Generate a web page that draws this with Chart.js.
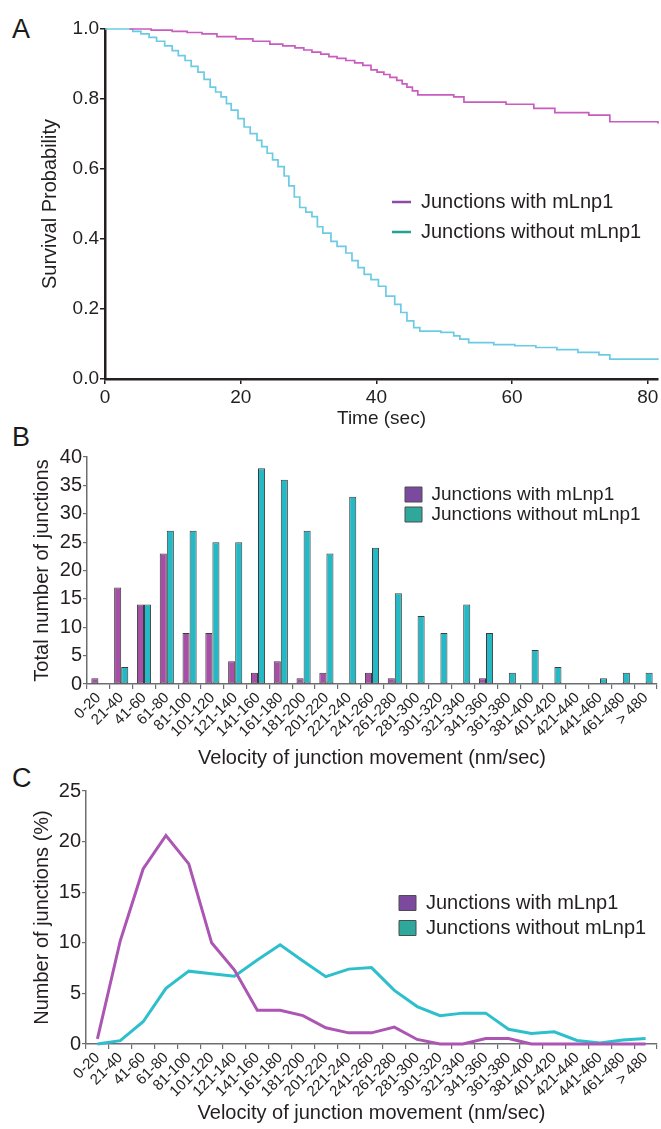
<!DOCTYPE html>
<html><head><meta charset="utf-8">
<script src="https://cdn.jsdelivr.net/npm/chart.js@4/dist/chart.umd.min.js"></script>
<style>
html,body{margin:0;padding:0;background:#fff;}
body{width:661px;height:1129px;position:relative;overflow:hidden;font-family:"Liberation Sans",Arial,sans-serif;color:#231f20;}
canvas{position:absolute;left:0;}
.letter{position:absolute;left:12px;font-size:27px;line-height:1;color:#1a1a1a;}
</style></head><body>
<div class="letter" style="top:16px">A</div>
<div class="letter" style="top:424px">B</div>
<div class="letter" style="top:765px">C</div>
<canvas id="cA" width="661" height="430" style="top:0;width:661px;height:430px"></canvas>
<canvas id="cB" width="661" height="342" style="top:428px;width:661px;height:342px"></canvas>
<canvas id="cC" width="661" height="359" style="top:770px;width:661px;height:359px"></canvas>
<script>
// ---------- data ----------
const seriesNames = ['Junctions with mLnp1', 'Junctions without mLnp1'];

// Panel A: Kaplan-Meier survival (time in sec, survival probability)
const aTimeWith = [3.6,6.8,9.9,12.1,14.3,16.5,19.3,21.8,24.3,26.2,28.0,29.3,30.5,31.8,33.0,34.2,35.5,36.8,38.0,39.2,40.1,41.1,42.0,43.0,43.8,44.5,45.3,46.1,51.4,52.9,59.1,63.2,66.3,71.3,74.4,81.5];
const aSurvWith = [1.0,0.997,0.993,0.990,0.986,0.978,0.972,0.965,0.957,0.952,0.946,0.940,0.934,0.928,0.921,0.916,0.910,0.903,0.896,0.883,0.877,0.870,0.862,0.853,0.843,0.834,0.823,0.812,0.806,0.791,0.785,0.773,0.761,0.754,0.735,0.730];
const aTimeWithout = [0,4.1,5.3,6.5,7.6,8.8,9.9,10.8,11.8,12.7,13.7,14.6,15.5,16.3,17.1,17.9,18.6,19.6,20.5,21.4,22.4,23.1,23.9,24.7,25.5,26.4,27.1,27.9,28.7,29.6,30.5,31.3,32.1,33.3,34.2,35.5,36.4,37.3,38.2,39.2,40.3,41.4,42.7,43.6,44.5,45.5,46.4,49.5,51.4,52.3,53.6,57.3,60.4,63.5,66.6,69.7,72.8,74.4,81.5];
const aSurvWithout = [1.0,0.993,0.986,0.976,0.965,0.952,0.938,0.924,0.910,0.893,0.877,0.856,0.834,0.820,0.806,0.787,0.768,0.744,0.720,0.701,0.682,0.664,0.645,0.626,0.607,0.580,0.552,0.520,0.490,0.477,0.464,0.435,0.417,0.393,0.379,0.360,0.338,0.318,0.299,0.284,0.265,0.237,0.213,0.190,0.166,0.147,0.137,0.133,0.123,0.114,0.104,0.098,0.095,0.090,0.084,0.076,0.069,0.057,0.055];
const aXTicks = [0,20,40,60,80];
const aYTicks = [0,0.2,0.4,0.6,0.8,1.0];

// Panels B and C: velocity bins
const velocityBins = ['0-20','21-40','41-60','61-80','81-100','101-120','121-140','141-160','161-180','181-200','201-220','221-240','241-260','261-280','281-300','301-320','321-340','341-360','361-380','381-400','401-420','421-440','441-460','461-480','> 480'];
const countsWith    = [1,17,14,23,9,9,4,2,4,1,2,0,2,1,0,0,0,1,0,0,0,0,0,0,0];
const countsWithout = [0,3,14,27,27,25,25,38,36,27,23,33,24,16,12,9,14,9,2,6,3,0,1,2,2];
const bYTicks = [0,5,10,15,20,25,30,35,40];

const pctWith    = [0.5,10.2,17.3,20.6,17.8,10.0,7.3,3.33,3.33,2.8,1.6,1.1,1.1,1.67,0.45,0,0,0.55,0.55,0,0,0,0,0,0];
const pctWithout = [0,0.33,2.2,5.5,7.2,6.95,6.7,8.3,9.8,8.2,6.65,7.4,7.55,5.3,3.7,2.8,3.05,3.05,1.45,1.05,1.2,0.35,0.1,0.4,0.55];
const cYTicks = [0,5,10,15,20,25];

// ---------- styles ----------
const FONT = "'Liberation Sans', Arial, sans-serif";
const INK = '#231f20';
const AXIS_GRAY = '#6d6e71';
Chart.defaults.font.family = FONT;
Chart.defaults.color = INK;

const fixTicks = vals => scale => { scale.ticks = vals.map(v => ({value: v})); };
const placeLegend = (x, y) => ({
  id: 'placeLegend',
  afterLayout(chart) {
    const lg = chart.legend; if (!lg) return;
    const w = lg.width, h = lg.height;
    lg.left = x; lg.top = y; lg.right = x + w; lg.bottom = y + h;
  }
});
const zip = (xs, ys) => xs.map((x, i) => ({x, y: ys[i]}));

// ---------- Panel A ----------
const aLegendColors = ['#8a4ca8', '#27a192'];
new Chart(document.getElementById('cA'), {
  type: 'line',
  data: { datasets: [
    { label: seriesNames[0], data: zip(aTimeWith, aSurvWith), borderColor: '#c95cbf', borderWidth: 1.7, stepped: true, pointRadius: 0, clip: false },
    { label: seriesNames[1], data: zip(aTimeWithout, aSurvWithout), borderColor: '#6ccbe4', borderWidth: 1.7, stepped: true, pointRadius: 0, clip: false }
  ]},
  options: {
    responsive: false, animation: false, devicePixelRatio: 1,
    layout: { padding: { top: 29, right: 3, left: 0, bottom: 0 } },
    scales: {
      x: { type: 'linear', min: 0, max: 81.5,
        afterBuildTicks: fixTicks(aXTicks), afterFit: s => { s.height = 51; },
        grid: { drawOnChartArea: false, drawTicks: true, tickLength: 5, color: INK, lineWidth: 1.5 },
        border: { display: true, color: INK, width: 2.5 },
        ticks: { font: { size: 19 }, color: INK, padding: 2, maxRotation: 0 },
        title: { display: true, text: 'Time (sec)', font: { size: 19 }, color: INK, padding: { top: 0, bottom: 0 } }
      },
      y: { min: 0, max: 1,
        afterBuildTicks: fixTicks(aYTicks), afterFit: s => { s.width = 105; },
        grid: { drawOnChartArea: false, drawTicks: true, tickLength: 5, color: INK, lineWidth: 1.5 },
        border: { display: true, color: INK, width: 2.5 },
        ticks: { font: { size: 19 }, color: INK, padding: 1, callback: v => Number(v).toFixed(1) },
        title: { display: true, text: 'Survival Probability', font: { size: 20 }, color: INK, padding: { top: 38, bottom: 0 } }
      }
    },
    plugins: {
      tooltip: { enabled: false },
      legend: { position: 'chartArea', align: 'start',
        labels: { usePointStyle: true, pointStyleWidth: 19, boxHeight: 20, padding: 10, font: { size: 20 }, color: INK,
          generateLabels: chart => chart.data.datasets.map((ds, i) => ({
            text: ds.label, fillStyle: aLegendColors[i], strokeStyle: aLegendColors[i], lineWidth: 2.5,
            pointStyle: 'line', hidden: false, datasetIndex: i, fontColor: INK })) }
      }
    }
  },
  plugins: [placeLegend(382, 182)]
});

// ---------- shared for B and C ----------
const bcLegendColors = ['#7b4a9e', '#2ea89a'];
const bcLegend = (size, pad) => ({ position: 'chartArea', align: 'start',
  labels: { boxWidth: 17, boxHeight: 15, padding: pad, font: { size: size }, color: INK,
    generateLabels: chart => chart.data.datasets.map((ds, i) => ({
      text: ds.label, fillStyle: bcLegendColors[i], strokeStyle: '#4d4d4d', lineWidth: 1,
      hidden: false, datasetIndex: i, fontColor: INK })) } });
const catX = (titleText, h) => ({
  offset: true, afterFit: s => { s.height = h; },
  grid: { drawOnChartArea: false, drawTicks: true, tickLength: 5, color: AXIS_GRAY, lineWidth: 1.2, offset: true },
  border: { display: true, color: AXIS_GRAY, width: 1.5 },
  ticks: { font: { size: 15 }, color: INK, padding: 0, minRotation: 45, maxRotation: 45, autoSkip: false },
  title: { display: true, text: titleText, font: { size: 20 }, color: INK, padding: { top: 0, bottom: 0 } }
});
const valY = (ticks, max, titleText, w, tpad) => ({
  min: 0, max: max, afterBuildTicks: fixTicks(ticks), afterFit: s => { s.width = w; },
  grid: { drawOnChartArea: false, drawTicks: true, tickLength: 4, color: AXIS_GRAY, lineWidth: 1.2 },
  border: { display: true, color: AXIS_GRAY, width: 1.5 },
  ticks: { font: { size: 20 }, color: INK, padding: 1 },
  title: { display: true, text: titleText, font: { size: 20 }, color: INK, padding: { top: tpad, bottom: 0 } }
});

// ---------- Panel B ----------
new Chart(document.getElementById('cB'), {
  type: 'bar',
  data: { labels: velocityBins, datasets: [
    { label: seriesNames[0], data: countsWith, backgroundColor: '#a64fa6', borderColor: '#3d3d3d', borderWidth: 1, borderSkipped: false, categoryPercentage: 0.62, barPercentage: 1.0 },
    { label: seriesNames[1], data: countsWithout, backgroundColor: '#25b9c6', borderColor: '#3d3d3d', borderWidth: 1, borderSkipped: false, categoryPercentage: 0.62, barPercentage: 1.0 }
  ]},
  options: {
    responsive: false, animation: false, devicePixelRatio: 1,
    layout: { padding: { top: 29, right: 4, left: 0, bottom: 0 } },
    scales: { x: catX('Velocity of junction movement (nm/sec)', 86), y: valY(bYTicks, 40, 'Total number of junctions', 87, 30) },
    plugins: { tooltip: { enabled: false }, legend: bcLegend(19, 1) }
  },
  plugins: [placeLegend(404, 56)]
});

// ---------- Panel C ----------
new Chart(document.getElementById('cC'), {
  type: 'line',
  data: { labels: velocityBins, datasets: [
    { label: seriesNames[0], data: pctWith, borderColor: '#ab56b2', borderWidth: 3, pointRadius: 0, tension: 0, clip: false },
    { label: seriesNames[1], data: pctWithout, borderColor: '#2dbfcc', borderWidth: 3, pointRadius: 0, tension: 0, clip: false }
  ]},
  options: {
    responsive: false, animation: false, devicePixelRatio: 1,
    layout: { padding: { top: 21, right: 4, left: 0, bottom: 4 } },
    scales: { x: catX('Velocity of junction movement (nm/sec)', 81), y: valY(cYTicks, 25, 'Number of junctions (%)', 86, 30) },
    plugins: { tooltip: { enabled: false }, legend: bcLegend(20, 5) }
  },
  plugins: [placeLegend(394, 118)]
});
</script>
</body></html>
